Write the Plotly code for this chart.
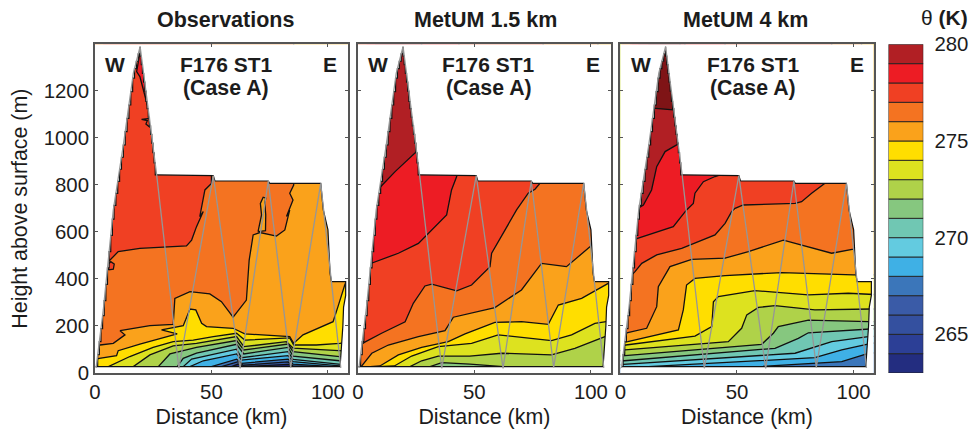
import plotly.graph_objects as go

# ---------- colour scale ----------
theta_levels = [263, 264, 265, 266, 267, 268, 269, 270, 271, 272, 273, 274, 275, 276, 277, 278, 279]
theta_colors = ["#232d80", "#2c3f96", "#34509f", "#3a5ba7", "#3b76ba", "#3fb0e5", "#63cbe0", "#70c7b3",
                "#86c77f", "#afd249", "#dde21f", "#ffde00", "#faa21b", "#f47321", "#f04023", "#ed1c24", "#b11f24"]
above_280_color = "#7f1416"
colorbar_ticks = [265, 270, 275, 280]
x_ticks = [0, 50, 100]
y_ticks = [0, 200, 400, 600, 800, 1000, 1200]

# ---------- cross-section outline (km, m) ----------
west_step_x = [1.2, 1.9, 2.6, 3.3, 4, 4.7, 5.4, 6.1, 6.8, 7.5, 8.2, 9, 9.8, 10.6, 11.4, 12.2, 13, 13.8, 14.6, 15.4, 16.2, 17, 17.8, 18.6, 19.4]
west_step_y = [78, 133, 189, 244, 308, 377, 447, 516, 585, 654, 712, 763, 814, 866, 917, 969, 1026, 1082, 1139, 1196, 1253, 1294, 1325, 1356, 1387]
east_step_x = [19.4, 19.9, 20.4, 20.9, 21.4, 21.9, 22.4, 22.9, 23.4, 23.9, 24.4, 24.9, 25.4, 25.9, 26.5]
east_step_y = [1387, 1347, 1311, 1273, 1236, 1198, 1154, 1124, 1087, 1050, 1014, 977, 936, 893, 842]
plateau_outline = [(50.8, 839), (51.5, 816), (74.4, 816), (75, 806), (96.9, 806), (98, 693), (100, 608),
                   (100.9, 424), (101.5, 388), (107.6, 388), (107.6, 330), (106.7, 280), (106.4, 200), (105.2, 27)]

flight_track = [(0.5, 22), (3.6, 268), (7.9, 693), (12.2, 969), (16.5, 1274), (19.4, 1387), (22.2, 1175), (25.1, 962),
                (26.5, 842), (36, 20), (50.8, 839), (62.3, 20), (74.4, 816), (84, 24), (96.9, 806), (105.5, 22)]

# ---------- Observations: isotherms (km, m), coloured above ----------
obs_base = 263
obs_266 = [(-5, 20), (58.6, 27), (61.5, 38), (63.6, 27), (82.9, 37), (86.5, 27), (112, 20)]
obs_267 = [(-5, 20), (54.3, 27), (61.5, 48), (63.6, 33), (82.9, 47), (85, 30), (95, 27), (112, 20)]
obs_268 = [(-5, 20), (50, 27), (60.8, 59), (62.9, 41), (82.9, 59), (85, 38), (102.2, 27), (112, 20)]
obs_269 = [(-5, 20), (40.8, 27), (46.5, 52), (60.8, 81), (62.9, 55), (82.9, 74), (85, 48), (105, 30), (112, 20)]
obs_270 = [(-5, 20), (37.9, 27), (41.5, 59), (60.8, 101), (62.9, 65), (82.9, 91), (85, 58), (105, 38), (112, 30)]
obs_271 = [(-5, 20), (35.3, 27), (37.9, 62), (43.6, 84), (60.8, 122), (63.9, 81), (82.9, 109), (85, 72), (105, 52), (112, 48)]
obs_272 = [(-5, 20), (27.2, 27), (32.2, 81), (43.6, 109), (60.8, 138), (63.9, 98), (82.9, 123), (85, 91), (105, 70), (112, 62)]
obs_273 = [(-5, 20), (16.5, 27), (23.6, 77), (33.6, 115), (43.6, 126), (60.8, 155), (63.9, 112), (82.2, 133), (85, 106),
           (105, 95), (112, 91)]
obs_274 = [(-5, 20), (5.8, 27), (15, 70), (25, 109), (33.6, 133), (42.2, 140), (50.8, 155), (60.8, 169), (64.3, 140),
           (73.6, 145), (83.6, 149), (85.3, 119), (95, 119), (105, 126), (112, 133)]
obs_275 = [(-0.7, 55), (1.9, 62), (9.3, 74), (10, 95), (19.3, 123), (32.2, 159), (35.3, 166), (28.6, 183), (37.9, 201),
           (40.8, 272), (43.3, 268), (45.8, 211), (47.9, 197), (59.3, 190), (64.3, 166), (83.6, 155), (85.3, 126),
           (89.3, 162), (102.2, 218), (104.3, 282), (107.2, 374), (109.3, 424)]
obs_276 = [(0, 115), (2.2, 119), (7.9, 126), (12.9, 162), (10.8, 180), (23.6, 201), (33.6, 207), (34.3, 317), (40.8, 346),
           (49.3, 336), (54.3, 303), (59.3, 237), (65, 310), (66.2, 480), (67.9, 587), (70.8, 597), (77.9, 582), (81.5, 608),
           (83.6, 693), (82.2, 665), (85, 735), (83.6, 764), (85.3, 799), (85.3, 849)]
obs_277 = [(3.6, 459), (6.5, 480), (10, 516), (19.3, 530), (39.3, 540), (41.5, 565), (43.6, 622), (46.5, 686), (45, 665),
           (47.2, 778), (50, 806), (50, 863)]
obs_curves = [(266, obs_266), (267, obs_267), (268, obs_268), (269, obs_269), (270, obs_270), (271, obs_271), (272, obs_272),
              (273, obs_273), (274, obs_274), (275, obs_275), (276, obs_276), (277, obs_277)]
obs_patch_peak = [(19.3, 1359), (17.9, 1281), (19.3, 1260), (20.5, 1210), (21.5, 1175), (22.5, 1139), (23.3, 1139), (21.5, 1274), (20, 1359)]
obs_patch_spot = [(20, 1078), (23.3, 1082), (23.6, 1044), (21.9, 1058), (22.5, 1073), (20, 1078)]
obs_patch_west = [(5.8, 438), (7.9, 441), (8.3, 463), (6.8, 473), (5.8, 463), (5.8, 438)]
obs_patch_tongue = [(70, 601), (73.2, 605), (73.3, 672), (72.9, 721), (73.3, 743), (72.2, 747), (71, 721), (71.5, 672), (70, 601)]
obs_patches = [(278, obs_patch_peak), (277, obs_patch_spot), (277, obs_patch_west), (275, obs_patch_tongue)]

# ---------- MetUM 1.5 km ----------
um15_base = 271
um15_272 = [(-5, 20), (31, 27), (36, 44), (48.1, 38), (62.4, 27), (112, 20)]
um15_273 = [(-5, 20), (22.4, 27), (27.4, 52), (34.5, 72), (48, 72), (61.7, 84), (83.1, 77), (93.1, 105), (106, 155), (111.6, 176)]
um15_274 = [(-5, 20), (15.7, 30), (23.1, 72), (34.5, 112), (48.8, 126), (60.2, 162), (83.1, 138), (91.7, 162), (101.7, 211),
            (106.7, 218), (111, 225)]
um15_275 = [(-5, 20), (9.5, 30), (17.4, 77), (27.4, 109), (38.8, 133), (46, 166), (58.8, 215), (70.2, 218), (81.7, 207),
            (86, 289), (96, 317), (107.4, 381), (110, 402)]
um15_276 = [(-5, 20), (1.7, 30), (6, 84), (13.1, 119), (26, 155), (37.4, 180), (41, 237), (58.8, 278), (70.2, 353), (78.8, 466),
            (89.5, 452), (98.8, 530), (103, 565)]
um15_277 = [(0.2, 112), (2.8, 130), (10.2, 169), (20.3, 218), (23.8, 296), (28.8, 370), (31.7, 378), (42.4, 349), (48.8, 374),
            (56.7, 452), (57.4, 509), (63.2, 608), (68.1, 693), (73.1, 764), (76, 781), (78.1, 806), (79.5, 835)]
um15_278 = [(3.8, 459), (6.7, 470), (17.4, 509), (26, 551), (33.1, 622), (38.1, 672), (40.2, 778), (42.4, 835), (43.4, 877)]
um15_279 = [(7.4, 764), (10.5, 799), (16, 856), (24.5, 937), (27.4, 962)]
um15_curves = [(272, um15_272), (273, um15_273), (274, um15_274), (275, um15_275), (276, um15_276), (277, um15_277),
               (278, um15_278), (279, um15_279)]

# ---------- MetUM 4 km ----------
um4_base = 267
um4_268 = [(-5, 20), (59.2, 27), (94.9, 48), (104.9, 79), (112, 91)]
um4_269 = [(-5, 20), (12, 27), (83.4, 65), (94.9, 98), (105.6, 122), (112, 133)]
um4_270 = [(-0.8, 34), (1.3, 37), (74.9, 84), (83.4, 109), (90.6, 133), (106.3, 155), (112, 157)]
um4_271 = [(-0.8, 52), (1.7, 52), (66.3, 105), (76.3, 147), (80.6, 171), (106.3, 186), (112, 190)]
um4_272 = [(-0.1, 72), (2, 74), (60.6, 122), (65.6, 169), (67.7, 197), (80.6, 225), (106.3, 218), (112, 218)]
um4_273 = [(-0.1, 95), (2, 98), (46.3, 133), (52, 190), (54.2, 247), (59.2, 279), (66.3, 286), (83.4, 268), (107.7, 272), (112, 272)]
um4_274 = [(0.6, 112), (2.4, 119), (32, 157), (39.2, 197), (39.9, 303), (42, 325), (57.7, 350), (80.6, 332), (97.7, 339),
           (107.7, 332), (112, 332)]
um4_275 = [(0.6, 129), (3.2, 133), (24.9, 183), (27, 268), (28.4, 374), (32, 402), (44.9, 414), (69.2, 427), (99.9, 417), (112, 417)]
um4_276 = [(0.6, 162), (3.2, 172), (11.3, 190), (15.6, 282), (16.3, 367), (21.3, 452), (30.6, 483), (44.9, 488), (54.9, 516),
           (69.9, 565), (90.6, 509), (99.9, 526), (103.4, 537)]
um4_277 = [(4.2, 410), (6.3, 431), (9.2, 466), (15.6, 502), (26.3, 530), (40.6, 587), (44.9, 636), (47.7, 686), (49.2, 700),
           (52.7, 714), (74.9, 721), (77.7, 728), (82, 764), (87.7, 806), (90.6, 835)]
um4_278 = [(4.9, 563), (7.7, 573), (22.7, 622), (28.4, 693), (31.3, 721), (32, 764), (35.6, 813), (40.6, 835), (44.9, 849)]
um4_279 = [(7.7, 700), (9.9, 714), (13.4, 778), (15.6, 877), (19.2, 941), (24.4, 972), (27.7, 990)]
um4_280 = [(12, 1125), (15.2, 1125), (22.7, 1118), (25.6, 1118)]
um4_curves = [(268, um4_268), (269, um4_269), (270, um4_270), (271, um4_271), (272, um4_272), (273, um4_273), (274, um4_274),
              (275, um4_275), (276, um4_276), (277, um4_277), (278, um4_278), (279, um4_279), (280, um4_280)]

panel_titles = ["Observations", "MetUM 1.5 km", "MetUM 4 km"]

# ---------- layout helpers ----------
W, H = 971, 430
X_MAX, Y_MAX, CEIL = 108.6, 1397, 1600
FONT = "Liberation Sans"
INK = "#1c1c1c"
FRAME = "#555555"
panel_px = [(94.9, 348), (357.8, 611), (620.3, 873.7)]
plot_top, plot_bot = 44.3, 373
color_of = dict(zip(theta_levels, theta_colors))
color_of[280] = above_280_color

# staircase outline of the sampled section, from the step lists
section_outline = [(0.3, 27), (west_step_x[0], 27)]
for k in range(len(west_step_x) - 1):
    section_outline += [(west_step_x[k], west_step_y[k]), (west_step_x[k + 1], west_step_y[k])]
section_outline.append((west_step_x[-1], west_step_y[-1]))
for k in range(len(east_step_x) - 1):
    section_outline += [(east_step_x[k], east_step_y[k + 1]), (east_step_x[k + 1], east_step_y[k + 1])]
section_outline += plateau_outline


def fx(px):
    return px / W


def fy(py):
    return 1 - py / H


fig = go.Figure()


def add_poly(points, color, ax, line=1.3):
    fig.add_trace(go.Scatter(x=[p[0] for p in points], y=[p[1] for p in points], mode="lines", fill="toself",
                             fillcolor=color, line=dict(color="#111111", width=line), hoverinfo="skip",
                             showlegend=False, xaxis="x" + ax, yaxis="y" + ax))


panels = [(obs_base, obs_curves, obs_patches), (um15_base, um15_curves, []), (um4_base, um4_curves, [])]
for i, (base, curves, patches) in enumerate(panels):
    ax = "" if i == 0 else str(i + 1)
    add_poly([(-5, -50), (115, -50), (115, CEIL), (-5, CEIL)], color_of[base], ax, 0)
    for level, curve in curves:
        poly = list(curve) + [(curve[-1][0], CEIL), (curve[0][0], CEIL)]
        add_poly(poly, color_of[level], ax)
    for level, patch in patches:
        add_poly(patch, color_of[level], ax)
    # white mask outside the sampled section
    start = section_outline[0]
    corner = (-3, -60)
    mask = [corner, (115, -60), (115, CEIL), (-3, CEIL), corner, start] + section_outline[1:] + [start, corner]
    fig.add_trace(go.Scatter(x=[p[0] for p in mask], y=[p[1] for p in mask], mode="lines", fill="toself",
                             fillcolor="white", line=dict(width=0), hoverinfo="skip", showlegend=False,
                             xaxis="x" + ax, yaxis="y" + ax))
    outline = section_outline + [section_outline[0]]
    fig.add_trace(go.Scatter(x=[p[0] for p in outline], y=[p[1] for p in outline], mode="lines",
                             line=dict(color="#111111", width=1.2), hoverinfo="skip", showlegend=False,
                             xaxis="x" + ax, yaxis="y" + ax))
    fig.add_trace(go.Scatter(x=[p[0] for p in flight_track], y=[p[1] for p in flight_track], mode="lines",
                             line=dict(color="#969696", width=1.3), hoverinfo="skip", showlegend=False,
                             xaxis="x" + ax, yaxis="y" + ax))

# colour bar
fig.add_trace(go.Bar(x=[0.5] * len(theta_levels), y=[1] * len(theta_levels), base=theta_levels, width=1,
                     marker=dict(color=theta_colors, line=dict(color="#222222", width=0.9)),
                     hoverinfo="skip", showlegend=False, xaxis="x4", yaxis="y4"))

layout = dict(template="none", width=W, height=H, autosize=False, margin=dict(l=0, r=0, t=0, b=0), paper_bgcolor="white",
              plot_bgcolor="white", barmode="overlay", font=dict(family=FONT, color=INK, size=20), showlegend=False)
for i, (a, b) in enumerate(panel_px):
    sfx = "" if i == 0 else str(i + 1)
    layout["xaxis" + sfx] = dict(domain=[fx(a), fx(b)], range=[0, X_MAX], tickmode="array", tickvals=x_ticks, ticks="inside",
                                 ticklen=3, tickcolor=FRAME, tickwidth=1, showline=True, linecolor=FRAME, linewidth=1.5,
                                 mirror="ticks", showgrid=False, zeroline=False, tickfont=dict(size=20.4), automargin=False,
                                 anchor="y" + sfx, title=dict(text="Distance (km)", font=dict(size=21.4), standoff=7))
    layout["yaxis" + sfx] = dict(domain=[fy(plot_bot), fy(plot_top)], range=[0, Y_MAX], tickmode="array", tickvals=y_ticks,
                                 ticks="inside", ticklen=3, tickcolor=FRAME, tickwidth=1, showline=True, linecolor=FRAME,
                                 linewidth=1.5, mirror="ticks", showgrid=False, zeroline=False, tickfont=dict(size=20.4),
                                 automargin=False, showticklabels=(i == 0), anchor="x" + sfx)
layout["yaxis"]["title"] = dict(text="Height above surface (m)", font=dict(size=21.4), standoff=10)
layout["xaxis4"] = dict(domain=[fx(888.5), fx(923.3)], range=[0, 1], visible=False, anchor="y4", automargin=False)
layout["yaxis4"] = dict(domain=[fy(plot_bot), fy(plot_top)], range=[263, 280], side="right", anchor="x4", tickmode="array",
                        tickvals=colorbar_ticks, ticks="outside", ticklen=6, tickcolor="rgba(0,0,0,0)", showline=False,
                        showgrid=False, zeroline=False, tickfont=dict(size=20.4), automargin=False)

notes = []


def note(text, px, py, size, bold=True):
    notes.append(dict(text=f"<b>{text}</b>" if bold else text, x=fx(px), y=fy(py), xref="paper", yref="paper",
                      xanchor="center", yanchor="middle", showarrow=False, font=dict(size=size, color=INK, family=FONT)))


for title, cx in zip(panel_titles, [225.3, 485.3, 745.7]):
    note(title, cx, 20, 21.5)
for wx, mid, ex in [(115, 226, 330), (377.7, 489, 593), (640.7, 753, 856.7)]:
    note("W", wx, 64, 21)
    note("F176 ST1", mid, 64, 21)
    note("(Case A)", mid, 88, 21.3)
    note("E", ex, 64, 21)
notes.append(dict(text="θ <b>(K)</b>", x=fx(944), y=fy(18), xref="paper", yref="paper", xanchor="center", yanchor="middle",
                  showarrow=False, font=dict(size=21, color=INK, family=FONT)))
layout["annotations"] = notes
fig.update_layout(**layout)
fig.write_html("out.html", post_script="document.body.style.margin='0';", config={"displayModeBar": False})
